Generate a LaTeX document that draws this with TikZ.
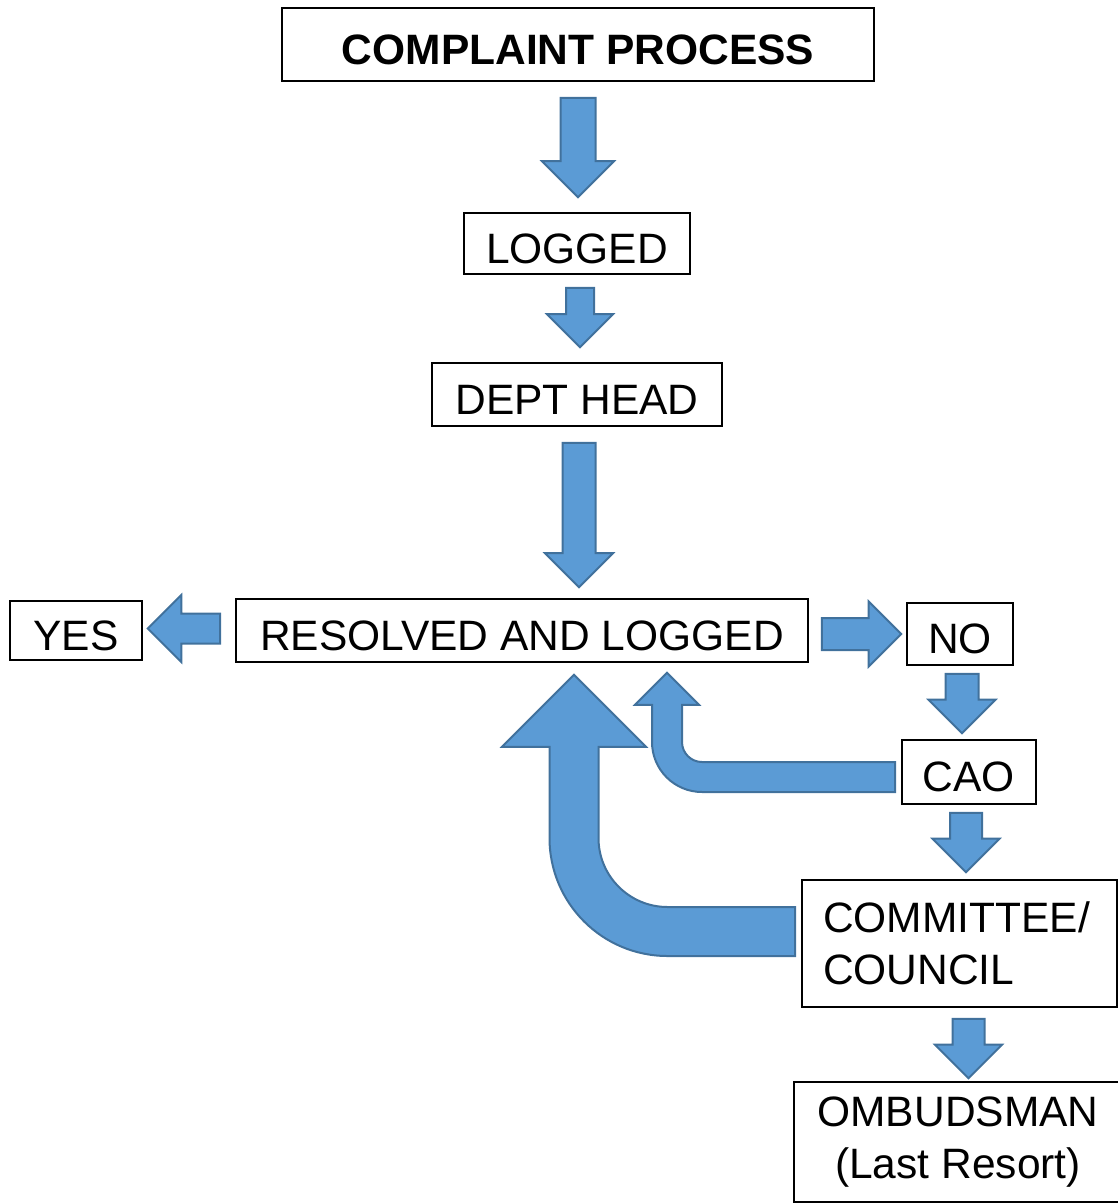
\documentclass[tikz,border=0pt]{standalone}
\usepackage{fontspec}
\setmainfont{Liberation Sans}
\usetikzlibrary{calc}
\definecolor{ArrowBlue}{RGB}{91,155,213}
\definecolor{ArrowEdge}{RGB}{65,113,156}

\tikzset{
  box/.style={draw, line width=1.6pt, inner sep=0pt, font=\fontsize{42.5}{52}\selectfont},
  oneline/.style={box, text height=39pt, text depth=0pt},
  bluearrow/.style={fill=ArrowBlue, draw=ArrowEdge, line width=2pt}
}

% straight block arrow: start, tip, shaft half width, head half width
\newcommand{\blockarrow}[4]{%
  \coordinate (ba hb) at ($(#2)!#4!(#1)$);
  \filldraw[bluearrow] ($(#1)!#3!90:(#2)$) -- ($(ba hb)!#3!90:(#2)$) -- ($(ba hb)!#4!90:(#2)$)
    -- (#2) -- ($(ba hb)!#4!-90:(#2)$) -- ($(ba hb)!#3!-90:(#2)$) -- ($(#1)!#3!-90:(#2)$) -- cycle;
}
% bent block arrow (left, then up): start, tip, shaft half width, head half width, inner and outer radius
\newcommand{\bentarrow}[6]{%
  \filldraw[bluearrow] let \p1=(#1), \p2=(#2) in
    (\x1,\y1-#3) -- (\x2-#3+#6,\y1-#3) arc[start angle=270, end angle=180, radius=#6]
    -- (\x2-#3,\y2-#4) -- (\x2-#4,\y2-#4) -- (\x2,\y2) -- (\x2+#4,\y2-#4) -- (\x2+#3,\y2-#4)
    -- (\x2+#3,\y1+#3+#5) arc[start angle=180, end angle=270, radius=#5]
    -- (\x1,\y1+#3) -- cycle;
}

\begin{document}
\begin{tikzpicture}[x=1pt, y=-1pt]
  \useasboundingbox (0,0) rectangle (1118,1203);

  % boxes
  \node[oneline, font=\fontsize{42.5}{52}\selectfont\bfseries, minimum width=592pt, minimum height=73pt] (title) at (578,44.5) {COMPLAINT PROCESS};
  \node[oneline, minimum width=226pt, minimum height=61pt] (logged) at (577,243.5) {LOGGED};
  \node[oneline, minimum width=290pt, minimum height=63pt] (dept) at (577,394.5) {DEPT HEAD};
  \node[oneline, minimum width=572pt, minimum height=63pt] (resolved) at (522,630.5) {RESOLVED AND LOGGED};
  \node[oneline, minimum width=132pt, minimum height=59pt] (yes) at (76,630.5) {YES};
  \node[oneline, minimum width=106pt, minimum height=62pt] (no) at (960,634) {NO};
  \node[oneline, minimum width=134pt, minimum height=64pt] (cao) at (969,772) {CAO};
  \node[box, minimum width=315pt, minimum height=127pt, inner xsep=21pt, text width=273pt, align=left] (committee) at (959.5,943.5) {COMMITTEE/\\COUNCIL};
  \node[box, minimum width=328pt, minimum height=120pt, align=center] (ombudsman) at (958,1142) {OMBUDSMAN\\(Last Resort)};

  % downward arrows
  \foreach \a/\b/\dx/\ga/\gb/\w/\W in {
    title/logged/0/16/15/17.5pt/36pt,
    logged/dept/3/13/15/14pt/33pt,
    dept/resolved/2/16/11/16.5pt/34pt,
    no/cao/2/8/6/16.5pt/33.5pt,
    cao/committee/-3/8/7/16pt/33.5pt,
    committee/ombudsman/9/11/3/16pt/33.5pt
  } {
    \coordinate (bs) at ($(\a.south)+(\dx,\ga)$);
    \coordinate (be) at ($(bs |- \b.north)+(0,-\gb)$);
    \blockarrow{bs}{be}{\w}{\W}
  }

  % sideways arrows
  \coordinate (ys) at ($(resolved.west)+(-15,-2)$);
  \coordinate (ye) at ($(ys -| yes.east)+(5,0)$);
  \blockarrow{ys}{ye}{15pt}{33.5pt}
  \coordinate (ns) at ($(resolved.east)+(13,3.5)$);
  \coordinate (ne) at ($(ns -| no.west)+(-5,0)$);
  \blockarrow{ns}{ne}{16pt}{32.5pt}

  % back to resolved
  \coordinate (cs) at ($(cao.west)+(-6,5)$);
  \coordinate (ce) at ($(resolved.south)+(145,10)$);
  \bentarrow{cs}{ce}{15pt}{32pt}{20pt}{50pt}
  \coordinate (ks) at ($(committee.west)+(-6,-12)$);
  \coordinate (ke) at ($(resolved.south)+(52,12)$);
  \bentarrow{ks}{ke}{24.5pt}{72pt}{69pt}{118pt}
\end{tikzpicture}
\end{document}
